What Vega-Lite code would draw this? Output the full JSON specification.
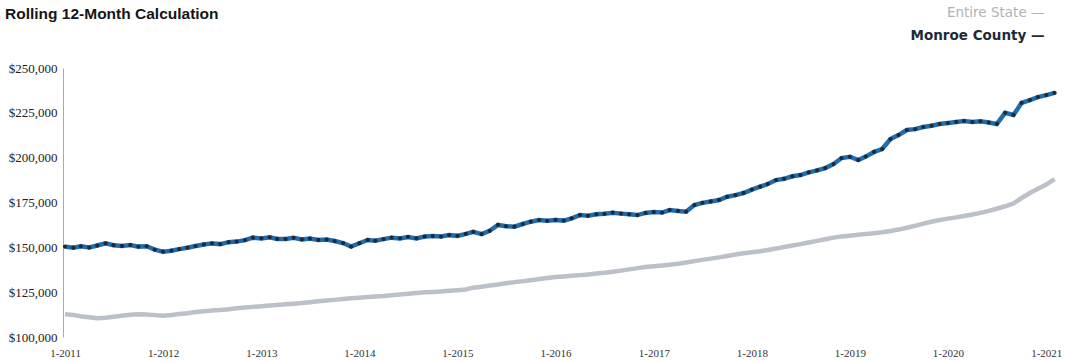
{
  "$schema": "https://vega.github.io/schema/vega-lite/v6.json",
  "width": 992,
  "height": 269,
  "autosize": {"type": "none"},
  "padding": {"left": 65, "top": 68, "right": 8, "bottom": 25},
  "background": "white",
  "config": {"view": {"stroke": null}},
  "title": {"text": "Rolling 12-Month Calculation", "anchor": "start", "frame": "group", "dx": -60, "offset": -16, "font": "Liberation Sans", "fontSize": 15.5, "fontWeight": "bold", "color": "#151515"},
  "data": {"values": [
    {"date":"2011-01-01","Entire State":112700,"Monroe County":150400},
    {"date":"2011-02-01","Entire State":112300,"Monroe County":149800},
    {"date":"2011-03-01","Entire State":111600,"Monroe County":150600},
    {"date":"2011-04-01","Entire State":111000,"Monroe County":149900},
    {"date":"2011-05-01","Entire State":110400,"Monroe County":151000},
    {"date":"2011-06-01","Entire State":110700,"Monroe County":152200},
    {"date":"2011-07-01","Entire State":111300,"Monroe County":151200},
    {"date":"2011-08-01","Entire State":111900,"Monroe County":150800},
    {"date":"2011-09-01","Entire State":112400,"Monroe County":151300},
    {"date":"2011-10-01","Entire State":112700,"Monroe County":150400},
    {"date":"2011-11-01","Entire State":112500,"Monroe County":150600},
    {"date":"2011-12-01","Entire State":112200,"Monroe County":148700},
    {"date":"2012-01-01","Entire State":111900,"Monroe County":147600},
    {"date":"2012-02-01","Entire State":112300,"Monroe County":148100},
    {"date":"2012-03-01","Entire State":112800,"Monroe County":149000},
    {"date":"2012-04-01","Entire State":113300,"Monroe County":149800},
    {"date":"2012-05-01","Entire State":113900,"Monroe County":150700},
    {"date":"2012-06-01","Entire State":114400,"Monroe County":151600},
    {"date":"2012-07-01","Entire State":114800,"Monroe County":152200},
    {"date":"2012-08-01","Entire State":115100,"Monroe County":151800},
    {"date":"2012-09-01","Entire State":115500,"Monroe County":152900},
    {"date":"2012-10-01","Entire State":116000,"Monroe County":153200},
    {"date":"2012-11-01","Entire State":116400,"Monroe County":154000},
    {"date":"2012-12-01","Entire State":116800,"Monroe County":155400},
    {"date":"2013-01-01","Entire State":117200,"Monroe County":155000},
    {"date":"2013-02-01","Entire State":117500,"Monroe County":155600},
    {"date":"2013-03-01","Entire State":117800,"Monroe County":154700},
    {"date":"2013-04-01","Entire State":118200,"Monroe County":154600},
    {"date":"2013-05-01","Entire State":118600,"Monroe County":155300},
    {"date":"2013-06-01","Entire State":119000,"Monroe County":154400},
    {"date":"2013-07-01","Entire State":119400,"Monroe County":154900},
    {"date":"2013-08-01","Entire State":119900,"Monroe County":154100},
    {"date":"2013-09-01","Entire State":120300,"Monroe County":154300},
    {"date":"2013-10-01","Entire State":120700,"Monroe County":153500},
    {"date":"2013-11-01","Entire State":121200,"Monroe County":152400},
    {"date":"2013-12-01","Entire State":121600,"Monroe County":150400},
    {"date":"2014-01-01","Entire State":121900,"Monroe County":152300},
    {"date":"2014-02-01","Entire State":122300,"Monroe County":154100},
    {"date":"2014-03-01","Entire State":122600,"Monroe County":153700},
    {"date":"2014-04-01","Entire State":122900,"Monroe County":154600},
    {"date":"2014-05-01","Entire State":123300,"Monroe County":155400},
    {"date":"2014-06-01","Entire State":123700,"Monroe County":155000},
    {"date":"2014-07-01","Entire State":124100,"Monroe County":155800},
    {"date":"2014-08-01","Entire State":124500,"Monroe County":155000},
    {"date":"2014-09-01","Entire State":124900,"Monroe County":156000},
    {"date":"2014-10-01","Entire State":125100,"Monroe County":156300},
    {"date":"2014-11-01","Entire State":125400,"Monroe County":156000},
    {"date":"2014-12-01","Entire State":125800,"Monroe County":156800},
    {"date":"2015-01-01","Entire State":126100,"Monroe County":156400},
    {"date":"2015-02-01","Entire State":126500,"Monroe County":157500},
    {"date":"2015-03-01","Entire State":127500,"Monroe County":158600},
    {"date":"2015-04-01","Entire State":128000,"Monroe County":157400},
    {"date":"2015-05-01","Entire State":128700,"Monroe County":159200},
    {"date":"2015-06-01","Entire State":129300,"Monroe County":162500},
    {"date":"2015-07-01","Entire State":130000,"Monroe County":161800},
    {"date":"2015-08-01","Entire State":130600,"Monroe County":161500},
    {"date":"2015-09-01","Entire State":131100,"Monroe County":163000},
    {"date":"2015-10-01","Entire State":131700,"Monroe County":164300},
    {"date":"2015-11-01","Entire State":132300,"Monroe County":165200},
    {"date":"2015-12-01","Entire State":132900,"Monroe County":164800},
    {"date":"2016-01-01","Entire State":133500,"Monroe County":165300},
    {"date":"2016-02-01","Entire State":133800,"Monroe County":164900},
    {"date":"2016-03-01","Entire State":134100,"Monroe County":166200},
    {"date":"2016-04-01","Entire State":134500,"Monroe County":168000},
    {"date":"2016-05-01","Entire State":134900,"Monroe County":167600},
    {"date":"2016-06-01","Entire State":135400,"Monroe County":168400},
    {"date":"2016-07-01","Entire State":135800,"Monroe County":168700},
    {"date":"2016-08-01","Entire State":136400,"Monroe County":169300},
    {"date":"2016-09-01","Entire State":137000,"Monroe County":168800},
    {"date":"2016-10-01","Entire State":137700,"Monroe County":168400},
    {"date":"2016-11-01","Entire State":138400,"Monroe County":168000},
    {"date":"2016-12-01","Entire State":139000,"Monroe County":169200},
    {"date":"2017-01-01","Entire State":139500,"Monroe County":169700},
    {"date":"2017-02-01","Entire State":139900,"Monroe County":169400},
    {"date":"2017-03-01","Entire State":140300,"Monroe County":170800},
    {"date":"2017-04-01","Entire State":140800,"Monroe County":170300},
    {"date":"2017-05-01","Entire State":141500,"Monroe County":169900},
    {"date":"2017-06-01","Entire State":142300,"Monroe County":173600},
    {"date":"2017-07-01","Entire State":143000,"Monroe County":174800},
    {"date":"2017-08-01","Entire State":143700,"Monroe County":175600},
    {"date":"2017-09-01","Entire State":144400,"Monroe County":176400},
    {"date":"2017-10-01","Entire State":145200,"Monroe County":178200},
    {"date":"2017-11-01","Entire State":146000,"Monroe County":179100},
    {"date":"2017-12-01","Entire State":146700,"Monroe County":180300},
    {"date":"2018-01-01","Entire State":147200,"Monroe County":182200},
    {"date":"2018-02-01","Entire State":147800,"Monroe County":183800},
    {"date":"2018-03-01","Entire State":148500,"Monroe County":185300},
    {"date":"2018-04-01","Entire State":149300,"Monroe County":187500},
    {"date":"2018-05-01","Entire State":150200,"Monroe County":188200},
    {"date":"2018-06-01","Entire State":151000,"Monroe County":189600},
    {"date":"2018-07-01","Entire State":151800,"Monroe County":190300},
    {"date":"2018-08-01","Entire State":152700,"Monroe County":191800},
    {"date":"2018-09-01","Entire State":153600,"Monroe County":192900},
    {"date":"2018-10-01","Entire State":154500,"Monroe County":194200},
    {"date":"2018-11-01","Entire State":155400,"Monroe County":196400},
    {"date":"2018-12-01","Entire State":156100,"Monroe County":199800},
    {"date":"2019-01-01","Entire State":156500,"Monroe County":200500},
    {"date":"2019-02-01","Entire State":157000,"Monroe County":198700},
    {"date":"2019-03-01","Entire State":157400,"Monroe County":200600},
    {"date":"2019-04-01","Entire State":157900,"Monroe County":203200},
    {"date":"2019-05-01","Entire State":158400,"Monroe County":204800},
    {"date":"2019-06-01","Entire State":159100,"Monroe County":210400},
    {"date":"2019-07-01","Entire State":159900,"Monroe County":212600},
    {"date":"2019-08-01","Entire State":160900,"Monroe County":215400},
    {"date":"2019-09-01","Entire State":162000,"Monroe County":215900},
    {"date":"2019-10-01","Entire State":163200,"Monroe County":217100},
    {"date":"2019-11-01","Entire State":164300,"Monroe County":217800},
    {"date":"2019-12-01","Entire State":165200,"Monroe County":218800},
    {"date":"2020-01-01","Entire State":166000,"Monroe County":219300},
    {"date":"2020-02-01","Entire State":166700,"Monroe County":219900},
    {"date":"2020-03-01","Entire State":167500,"Monroe County":220400},
    {"date":"2020-04-01","Entire State":168300,"Monroe County":219900},
    {"date":"2020-05-01","Entire State":169200,"Monroe County":220300},
    {"date":"2020-06-01","Entire State":170300,"Monroe County":219600},
    {"date":"2020-07-01","Entire State":171500,"Monroe County":218800},
    {"date":"2020-08-01","Entire State":172900,"Monroe County":225000},
    {"date":"2020-09-01","Entire State":174500,"Monroe County":223800},
    {"date":"2020-10-01","Entire State":177500,"Monroe County":230500},
    {"date":"2020-11-01","Entire State":180300,"Monroe County":232100},
    {"date":"2020-12-01","Entire State":182600,"Monroe County":233800},
    {"date":"2021-01-01","Entire State":185000,"Monroe County":234900},
    {"date":"2021-02-01","Entire State":188000,"Monroe County":236100}
  ]},
  "transform": [{"fold": ["Entire State", "Monroe County"], "as": ["series", "value"]}],
  "encoding": {
    "x": {
      "field": "date", "type": "temporal",
      "scale": {"type": "utc", "domain": [{"year": 2011, "month": 1, "date": 1, "utc": true}, {"year": 2021, "month": 2, "date": 10, "utc": true}]},
      "axis": {
        "title": null,
        "labelExpr": "utcFormat(datum.value, '%-m-%Y')",
        "values": [
          {"year": 2011, "month": 1, "date": 1, "utc": true},
          {"year": 2012, "month": 1, "date": 1, "utc": true},
          {"year": 2013, "month": 1, "date": 1, "utc": true},
          {"year": 2014, "month": 1, "date": 1, "utc": true},
          {"year": 2015, "month": 1, "date": 1, "utc": true},
          {"year": 2016, "month": 1, "date": 1, "utc": true},
          {"year": 2017, "month": 1, "date": 1, "utc": true},
          {"year": 2018, "month": 1, "date": 1, "utc": true},
          {"year": 2019, "month": 1, "date": 1, "utc": true},
          {"year": 2020, "month": 1, "date": 1, "utc": true},
          {"year": 2021, "month": 1, "date": 1, "utc": true}
        ],
        "grid": false, "ticks": false, "domain": false,
        "labelFont": "Liberation Serif", "labelFontSize": 11, "labelColor": "#333", "labelPadding": 10, "labelFlush": false, "labelOverlap": false
      }
    },
    "y": {
      "field": "value", "type": "quantitative",
      "scale": {"domain": [100000, 250000], "nice": false, "zero": false},
      "axis": {
        "title": null, "format": "$,.0f",
        "values": [100000, 125000, 150000, 175000, 200000, 225000, 250000],
        "grid": false, "ticks": false, "domain": true, "domainColor": "#aaaaaa", "domainWidth": 1, "offset": 2,
        "labelFont": "Liberation Serif", "labelFontSize": 13, "labelColor": "#222", "labelPadding": 6
      }
    },
    "color": {
      "field": "series", "type": "nominal",
      "scale": {"domain": ["Entire State", "Monroe County"], "range": ["#bcc0c8", "#1f6dad"]},
      "legend": {
        "orient": "none", "legendX": 966, "legendY": -62, "title": null,
        "symbolSize": 0, "symbolStrokeWidth": 0, "symbolOpacity": 0,
        "labelAlign": "right", "labelExpr": "datum.label + '  \u2014'",
        "labelFont": "DejaVu Sans", "labelFontSize": 13.5, "labelLimit": 300, "labelOffset": 0, "rowPadding": 8,
        "encode": {"labels": {"update": {
          "fill": {"signal": "datum.value === 'Monroe County' ? '#1c2a3a' : '#b0b4ba'"},
          "fontWeight": {"signal": "datum.value === 'Monroe County' ? 'bold' : 'normal'"}
        }}}
      }
    }
  },
  "layer": [
    {"mark": {"type": "line", "strokeWidth": 4.5}},
    {
      "transform": [{"filter": "datum.series === 'Monroe County'"}],
      "mark": {"type": "point", "filled": true, "size": 18, "opacity": 1},
      "encoding": {"color": {"value": "#1b2b3d"}}
    }
  ]
}
